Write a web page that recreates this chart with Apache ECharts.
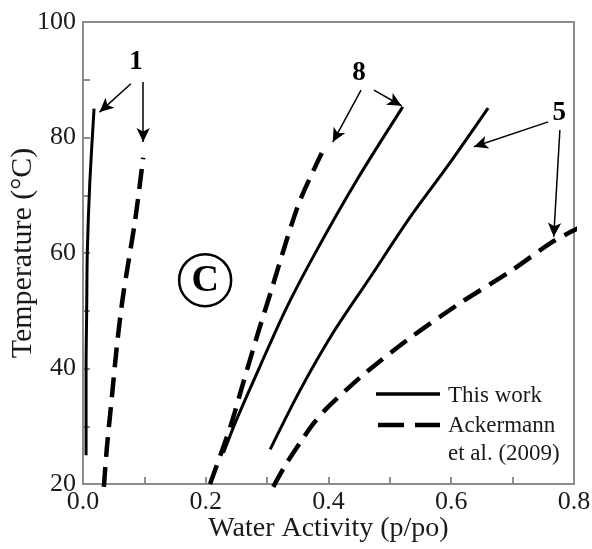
<!DOCTYPE html>
<html>
<head>
<meta charset="utf-8">
<script src="https://cdn.jsdelivr.net/npm/echarts@6/dist/echarts.min.js"></script>
<style>
  html, body { margin: 0; padding: 0; background: #fff; }
  #container { width: 592px; height: 549px; }
</style>
</head>
<body>
<div id="container"></div>
<script>
var dom = document.getElementById('container');
var myChart = echarts.init(dom, null, { renderer: 'canvas' });

// curves: [water activity, temperature]
const work1 = [[0.005, 25], [0.005, 40], [0.006, 50], [0.007, 60], [0.011, 72], [0.018, 85]];
const acker1 = [[0.034, 19.5], [0.039, 26.4], [0.047, 35], [0.055, 43.7], [0.065, 52.4], [0.085, 65.7], [0.098, 76.5]];
const work8 = [[0.229, 25.4], [0.25, 31.1], [0.288, 40.3], [0.332, 50.6], [0.381, 60.5], [0.446, 72.6], [0.521, 85.3]];
const acker8 = [[0.207, 20], [0.24, 29.9], [0.261, 37.5], [0.285, 46.1], [0.307, 53.6], [0.332, 62.3], [0.354, 69.2], [0.389, 77.3]];
const work5 = [[0.305, 26], [0.354, 36.3], [0.407, 46.1], [0.468, 55.8], [0.533, 66.2], [0.593, 74.9], [0.66, 85.1]];
const acker5 = [[0.31, 19.5], [0.33, 23.3], [0.354, 27.2], [0.375, 30.4], [0.397, 33.1], [0.43, 36.4], [0.462, 39.4],
    [0.533, 45.3], [0.614, 51.3], [0.696, 56.8], [0.766, 62], [0.807, 64.3]];

// annotation arrows [from, to] and labels, in data units
const arrows = [
    [[0.078, 89.3], [0.027, 84.4]],
    [[0.098, 89.6], [0.098, 79.2]],
    [[0.453, 88.2], [0.407, 79.2]],
    [[0.474, 88.2], [0.519, 85.5]],
    [[0.758, 82.7], [0.637, 78.4]],
    [[0.777, 81.3], [0.767, 62.8]]
];
const tags = [['1', 0.0864, 93.1], ['8', 0.4497, 91.2], ['5', 0.776, 84.2]];
const panelMark = ['C', 0.199, 55.3];

const serif = 'Liberation Serif';
const solidStyle = { color: '#000', width: 3, type: 'solid' };
const dashStyle = { color: '#000', width: 4.5, type: [20, 10] };

function curve(name, data, style) {
    return {
        name: name,
        type: 'line',
        data: data,
        smooth: 0.3,
        symbol: 'none',
        clip: false,
        lineStyle: style,
        silent: true
    };
}

var series = [
    curve('This work', work1, solidStyle),
    curve('Ackermann et al. (2009)', acker1, dashStyle),
    curve('This work', work8, solidStyle),
    curve('Ackermann et al. (2009)', acker8, dashStyle),
    curve('This work', work5, solidStyle),
    curve('Ackermann et al. (2009)', acker5, dashStyle)
];
series[0].markLine = {
    silent: true,
    symbol: ['none', 'arrow'],
    symbolSize: [10, 14],
    label: { show: false },
    lineStyle: { color: '#000', width: 1.5, type: 'solid' },
    data: arrows.map(a => [{ coord: a[0] }, { coord: a[1] }])
};

option = {
    animation: false,
    backgroundColor: '#fff',
    grid: {
        left: 83, right: 18, top: 22, bottom: 65,
        outerBoundsMode: 'none',
        containLabel: false,
        show: true, borderColor: '#8c8c8c', borderWidth: 2
    },
    xAxis: {
        type: 'value',
        min: 0, max: 0.8, interval: 0.2,
        name: 'Water Activity (p/po)',
        nameLocation: 'middle',
        nameGap: 31,
        nameMoveOverlap: false,
        nameTextStyle: { fontFamily: serif, fontSize: 28, color: '#1a1a1a', verticalAlign: 'top' },
        axisLine: { lineStyle: { color: '#8c8c8c', width: 2 } },
        axisTick: { inside: true, length: 7, lineStyle: { color: '#8c8c8c', width: 2 } },
        minorTick: { show: true, splitNumber: 2, length: 7, lineStyle: { color: '#8c8c8c', width: 2 } },
        splitLine: { show: false },
        axisLabel: {
            fontFamily: serif, fontSize: 26, color: '#1a1a1a', margin: 5,
            formatter: v => v.toFixed(1)
        }
    },
    yAxis: {
        type: 'value',
        min: 20, max: 100, interval: 20,
        name: 'Temperature (°C)',
        nameLocation: 'middle',
        nameGap: 45,
        nameMoveOverlap: false,
        nameTextStyle: { fontFamily: serif, fontSize: 30, color: '#1a1a1a' },
        axisLine: { show: true, lineStyle: { color: '#8c8c8c', width: 2 } },
        axisTick: { show: true, inside: true, length: 7, lineStyle: { color: '#8c8c8c', width: 2 } },
        minorTick: { show: true, splitNumber: 2, length: 7, lineStyle: { color: '#8c8c8c', width: 2 } },
        splitLine: { show: false },
        axisLabel: { fontFamily: serif, fontSize: 26, color: '#1a1a1a', margin: 7 }
    },
    series: series
};

myChart.setOption(option);

// labels, circled panel letter and legend drawn as graphics
var gfx = [];
tags.forEach(t => {
    var p = myChart.convertToPixel({ gridIndex: 0 }, [t[1], t[2]]);
    gfx.push({
        type: 'text', x: p[0], y: p[1], silent: true,
        style: {
            text: t[0], fill: '#000', font: 'bold 27px "Liberation Serif"',
            align: 'center', verticalAlign: 'middle'
        }
    });
});
var c = myChart.convertToPixel({ gridIndex: 0 }, [panelMark[1], panelMark[2]]);
gfx.push({
    type: 'circle', shape: { cx: c[0], cy: c[1], r: 26 }, silent: true,
    style: { fill: 'none', stroke: '#000', lineWidth: 2.5 }
});
gfx.push({
    type: 'text', x: c[0], y: c[1] + 1, silent: true,
    style: {
        text: panelMark[0], fill: '#000', font: 'bold 38px "Liberation Serif"',
        align: 'center', verticalAlign: 'middle'
    }
});
// legend
gfx.push({
    type: 'line', shape: { x1: 376, y1: 394, x2: 440, y2: 394 }, silent: true,
    style: { stroke: '#000', lineWidth: 3.5 }
});
gfx.push({
    type: 'line', shape: { x1: 378, y1: 425, x2: 440, y2: 425 }, silent: true,
    style: { stroke: '#000', lineWidth: 4.5, lineDash: [26, 11] }
});
[['This work', 396], ['Ackermann', 426], ['et al. (2009)', 454]].forEach(r => {
    gfx.push({
        type: 'text', x: 448, y: r[1], silent: true,
        style: {
            text: r[0], fill: '#1a1a1a', font: '23px "Liberation Serif"',
            align: 'left', verticalAlign: 'middle'
        }
    });
});
myChart.setOption({ graphic: gfx });

window.addEventListener('resize', myChart.resize);
</script>
</body>
</html>
